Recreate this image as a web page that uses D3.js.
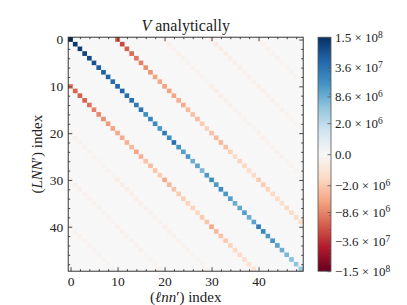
<!DOCTYPE html>
<html>
<head>
<meta charset="utf-8">
<script src="https://cdn.jsdelivr.net/npm/d3@7"></script>
<style>
  body { margin: 0; background: #fff; }
  text { font-family: "Liberation Serif", "DejaVu Serif", serif; fill: #222; }
</style>
</head>
<body>
<script>
var width = 407;
var height = 305;
var n = 50;

// main diagonal, V[i][i]
var diag = [1.5e8, 1.3e8, 1.2e8, 1.0e8, 8.5e7, 7.5e7, 6.0e7, 5.5e7, 5.0e7, 4.2e7,
            4.8e7, 5.0e7, 4.2e7, 3.8e7, 3.0e7, 3.4e7, 1.8e7, 2.2e7, 2.0e7, 1.4e7,
            2.8e7, 2.0e7, 4.0e7, 1.6e7, 1.2e7, 1.4e7, 8.6e6, 1.1e7, 7.0e6, 1.4e7,
            1.8e7, 1.4e7, 2.0e7, 1.4e7, 1.2e7, 9.0e6, 1.0e7, 1.2e7, 8.6e6, 1.1e7,
            2.8e7, 2.2e7, 1.4e7, 1.6e7, 1.1e7, 8.6e6, 7.0e6, 5.5e6, 5.0e6, 4.2e6];
// V[i][i+10]
var upper10 = [-1.8e7, -2.4e7, -1.6e7, -1.3e7, -1.1e7, -9.5e6, -7.0e6, -6.5e6, -4.9e6, -4.3e6,
               -5.0e6, -5.0e6, -4.6e6, -3.8e6, -4.2e6, -3.0e6, -2.4e6, -2.8e6, -1.9e6, -1.6e6,
               -2.4e6, -3.0e6, -3.2e6, -2.6e6, -1.6e6, -1.2e6, -1.5e6, -1.3e6, -1.1e6, -1.2e6,
               -1.9e6, -1.9e6, -1.5e6, -1.3e6, -1.1e6, -1.0e6, -1.3e6, -1.2e6, -1.1e6, -1.0e6];
// V[i+10][i]
var lower10 = [-1.0e7, -1.5e7, -1.6e7, -1.5e7, -1.2e7, -9.0e6, -8.0e6, -7.0e6, -5.8e6, -4.9e6,
               -4.3e6, -4.0e6, -3.6e6, -3.0e6, -4.6e6, -3.6e6, -2.5e6, -2.8e6, -2.2e6, -1.9e6,
               -4.2e6, -3.0e6, -2.5e6, -1.9e6, -1.7e6, -1.5e6, -1.5e6, -1.35e6, -1.9e6, -2.2e6,
               -4.3e6, -3.0e6, -2.5e6, -1.9e6, -1.5e6, -1.25e6, -1.2e6, -1.0e6, -8.5e5, -8.0e5];
// faint bands
var upper20 = [-2e5, -2e5, -1.6e5, -1.6e5, -1.4e5, -1.3e5, -1.2e5, -1.1e5, -1e5, -1e5,
               -2.5e5, -2.5e5, -2.2e5, -2e5, -1.8e5, -1.6e5, -1.5e5, -1.3e5, -1.2e5, -1.1e5,
               -2e5, -2e5, -1.8e5, -1.6e5, -1.4e5, -1.3e5, -1.2e5, -1.1e5, -1e5, -1e5];
var lower20 = [-1.6e5, -1.6e5, -1.4e5, -1.3e5, -1.2e5, -1.1e5, -1e5, -1e5, -9e4, -8e4,
               -3e5, -3e5, -2.8e5, -2.5e5, -2.3e5, -2e5, -1.8e5, -1.6e5, -1.5e5, -1.3e5,
               -2e5, -2e5, -1.8e5, -1.6e5, -1.4e5, -1.3e5, -1.2e5, -1.1e5, -1e5, -1e5];
var upper30 = [-3.5e5, -3.5e5, -3e5, -2.7e5, -2.5e5, -2.2e5, -2e5, -1.7e5, -1.5e5, -1.3e5,
               -2e5, -2e5, -1.8e5, -1.6e5, -1.4e5, -1.3e5, -1.2e5, -1.1e5, -1e5, -1e5];
var lower30 = [-2e5, -2e5, -1.8e5, -1.6e5, -1.4e5, -1.3e5, -1.2e5, -1.1e5, -1e5, -1e5,
               -1.8e5, -1.8e5, -1.6e5, -1.5e5, -1.3e5, -1.2e5, -1.1e5, -1e5, -9e4, -9e4];
var upper40 = [-1.6e5, -1.6e5, -1.5e5, -1.3e5, -1.2e5, -1.1e5, -1e5, -1e5, -9e4, -8e4];
var lower40 = [-1.5e5, -1.5e5, -1.3e5, -1.2e5, -1.1e5, -1e5, -1e5, -9e4, -8e4, -8e4];

var axisTicks = [0, 10, 20, 30, 40];
var axisMinor = [2, 4, 6, 8, 12, 14, 16, 18, 22, 24, 26, 28, 32, 34, 36, 38, 42, 44, 46, 48];
var vmax = 1.5e8;
var cbarTicks = [-1.5e8, -3.6e7, -8.6e6, -2.0e6, 0, 2.0e6, 8.6e6, 3.6e7, 1.5e8];
var cbarMant = ["\u22121.5", "\u22123.6", "\u22128.6", "\u22122.0", "0.0", "2.0", "8.6", "3.6", "1.5"];
var cbarExp = ["8", "7", "6", "6", "", "6", "6", "7", "8"];
var cbarMinor = [1e7, 2e7, 3e7, 4e7, 5e7, 6e7, 7e7, 8e7, 9e7, 1e8,
                 -1e7, -2e7, -3e7, -4e7, -5e7, -6e7, -7e7, -8e7, -9e7, -1e8];

var bands = [
  {off: 0, vals: diag},
  {off: 10, vals: upper10}, {off: -10, vals: lower10},
  {off: 20, vals: upper20}, {off: -20, vals: lower20},
  {off: 30, vals: upper30}, {off: -30, vals: lower30},
  {off: 40, vals: upper40}, {off: -40, vals: lower40}
];

var cells = [];
for (var r = 0; r < n; r++) {
  for (var c = 0; c < n; c++) {
    var v = 0;
    bands.forEach(function(b) {
      if (c - r == b.off) v = b.vals[Math.min(r, c)];
    });
    cells.push({row: r, col: c, value: v});
  }
}

var plotLeft = 68.2, plotRight = 303.2, plotTop = 37.2, plotBottom = 271.2;
var cbLeft = 318, cbRight = 331;

var rdbu = d3.piecewise(d3.interpolateRgb, ["#67001f", "#b2182b", "#d6604d", "#f4a582", "#fddbc7",
  "#f7f7f7", "#d1e5f0", "#92c5de", "#4393c3", "#2166ac", "#053061"]);
var norm = d3.scaleSymlog().constant(6e5).domain([-vmax, vmax]).range([0, 1]).clamp(true);

var xBand = d3.scaleBand().domain(d3.range(n)).range([plotLeft, plotRight]);
var yBand = d3.scaleBand().domain(d3.range(n)).range([plotTop, plotBottom]);
var xLin = d3.scaleLinear().domain([-0.5, n - 0.5]).range([plotLeft, plotRight]);
var yLin = d3.scaleLinear().domain([-0.5, n - 0.5]).range([plotTop, plotBottom]);

var svg = d3.select("body").append("svg")
  .attr("width", width)
  .attr("height", height);

svg.append("g").selectAll("rect")
  .data(cells)
  .join("rect")
    .attr("x", d => xBand(d.col))
    .attr("y", d => yBand(d.row))
    .attr("width", xBand.bandwidth() + 0.3)
    .attr("height", yBand.bandwidth() + 0.3)
    .attr("fill", d => rdbu(norm(d.value)));

function styleAxis(g) {
  g.select(".domain").remove();
  g.selectAll("line").attr("stroke", "#222").attr("stroke-width", 0.8);
  g.selectAll("text").attr("font-size", 13.5).attr("fill", "#222")
   .style("font-family", '"Liberation Serif", serif');
}

// major + minor ticks, all pointing in, labels on left & bottom
svg.append("g").attr("transform", `translate(0,${plotBottom})`)
  .call(d3.axisBottom(xLin).tickValues(axisTicks).tickSize(-4).tickPadding(5))
  .call(styleAxis);
svg.append("g").attr("transform", `translate(0,${plotBottom})`)
  .call(d3.axisBottom(xLin).tickValues(axisMinor).tickSize(-2).tickFormat(""))
  .call(styleAxis);
svg.append("g").attr("transform", `translate(0,${plotTop})`)
  .call(d3.axisTop(xLin).tickValues(axisTicks).tickSize(-4).tickFormat(""))
  .call(styleAxis);
svg.append("g").attr("transform", `translate(0,${plotTop})`)
  .call(d3.axisTop(xLin).tickValues(axisMinor).tickSize(-2).tickFormat(""))
  .call(styleAxis);
svg.append("g").attr("transform", `translate(${plotLeft},0)`)
  .call(d3.axisLeft(yLin).tickValues(axisTicks).tickSize(-4).tickPadding(5))
  .call(styleAxis);
svg.append("g").attr("transform", `translate(${plotLeft},0)`)
  .call(d3.axisLeft(yLin).tickValues(axisMinor).tickSize(-2).tickFormat(""))
  .call(styleAxis);
svg.append("g").attr("transform", `translate(${plotRight},0)`)
  .call(d3.axisRight(yLin).tickValues(axisTicks).tickSize(-4).tickFormat(""))
  .call(styleAxis);
svg.append("g").attr("transform", `translate(${plotRight},0)`)
  .call(d3.axisRight(yLin).tickValues(axisMinor).tickSize(-2).tickFormat(""))
  .call(styleAxis);

svg.append("rect")
  .attr("x", plotLeft).attr("y", plotTop)
  .attr("width", plotRight - plotLeft).attr("height", plotBottom - plotTop)
  .attr("fill", "none").attr("stroke", "#222").attr("stroke-width", 0.9);

// title
var title = svg.append("text")
  .attr("x", (plotLeft + plotRight) / 2).attr("y", 31)
  .attr("text-anchor", "middle").attr("font-size", 16);
title.append("tspan").attr("font-style", "italic").text("V");
title.append("tspan").text(" analytically");

// axis labels
var xl = svg.append("text")
  .attr("x", (plotLeft + plotRight) / 2).attr("y", 302)
  .attr("text-anchor", "middle").attr("font-size", 15);
xl.append("tspan").text("(");
xl.append("tspan").attr("font-style", "italic").text("\u2113nn");
xl.append("tspan").text("\u2032) index");

var yl = svg.append("text")
  .attr("transform", `translate(42,${(plotTop + plotBottom) / 2}) rotate(-90)`)
  .attr("text-anchor", "middle").attr("font-size", 15);
yl.append("tspan").text("(");
yl.append("tspan").attr("font-style", "italic").text("LNN");
yl.append("tspan").text("\u2032) index");

// colorbar
var defs = svg.append("defs");
var grad = defs.append("linearGradient").attr("id", "cbar")
  .attr("x1", 0).attr("y1", 1).attr("x2", 0).attr("y2", 0);
grad.selectAll("stop")
  .data(d3.range(0, 1.0001, 0.05))
  .join("stop")
    .attr("offset", d => d)
    .attr("stop-color", d => rdbu(d));

svg.append("rect")
  .attr("x", cbLeft).attr("y", plotTop)
  .attr("width", cbRight - cbLeft).attr("height", plotBottom - plotTop)
  .attr("fill", "url(#cbar)");

var cbScale = d3.scaleSymlog().constant(6e5).domain([-vmax, vmax]).range([plotBottom, plotTop]);

var cbAxis = svg.append("g").attr("transform", `translate(${cbRight},0)`)
  .call(d3.axisRight(cbScale).tickValues(cbarTicks).tickSize(-3.5).tickPadding(4))
  .call(styleAxis);
cbAxis.selectAll("line").attr("stroke", "#555");
cbAxis.selectAll(".tick text")
  .attr("x", 4)
  .attr("font-size", 13)
  .each(function(d, i) {
    var t = d3.select(this).text(null);
    if (cbarExp[i] === "") {
      t.append("tspan").text(cbarMant[i]);
    } else {
      t.append("tspan").text(cbarMant[i] + " \u00d7 10");
      t.append("tspan").attr("dy", "-0.45em").attr("font-size", 9.5).text(cbarExp[i]);
    }
  });
svg.append("g").attr("transform", `translate(${cbRight},0)`)
  .call(d3.axisRight(cbScale).tickValues(cbarMinor).tickSize(-2).tickFormat(""))
  .call(styleAxis)
  .selectAll("line").attr("stroke", "#555").attr("stroke-width", 0.6);

svg.append("rect")
  .attr("x", cbLeft).attr("y", plotTop)
  .attr("width", cbRight - cbLeft).attr("height", plotBottom - plotTop)
  .attr("fill", "none").attr("stroke", "#555").attr("stroke-width", 0.8);
</script>
</body>
</html>
